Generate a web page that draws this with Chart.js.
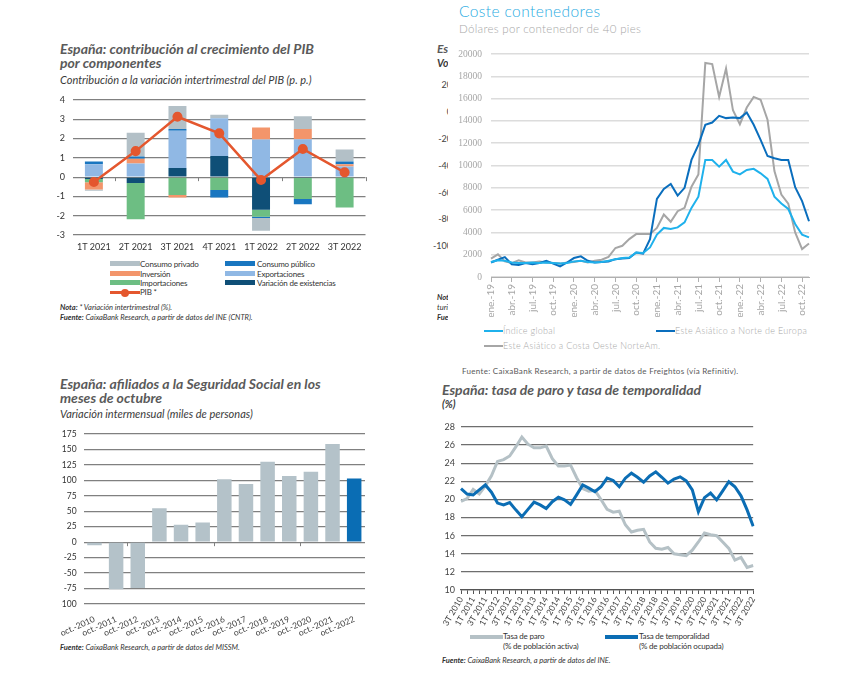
<!DOCTYPE html>
<html>
<head>
<meta charset="utf-8">
<script src="https://cdn.jsdelivr.net/npm/chart.js@4.4.0/dist/chart.umd.min.js"></script>
<style>
body { margin: 0; width: 843px; height: 690px; position: relative; overflow: hidden; background: #fff; font-family: Lato, sans-serif; }
.abs { position: absolute; white-space: nowrap; }
.tit { font-weight: bold; font-style: italic; color: #5a5a5a; font-size: 14px; line-height: 14px; }
.sub { font-style: italic; color: #3a3a3a; font-size: 11px; }
.note { font-style: italic; color: #333; font-size: 7.5px; }
.note b { font-style: italic; }
.leg { font-size: 8px; color: #333; letter-spacing: -0.2px; }
.box { position: absolute; }
.c2 { color: #a8a8a8; letter-spacing: 0.3px; font-weight: 300; }
</style>
</head>
<body>

<!-- fragmentos del gráfico tapado -->
<div class="abs" style="left:430px; top:40px; width:18px; height:290px; overflow:hidden;">
  <div class="abs tit" style="left:7px; top:2px; font-size:12px;">España</div>
  <div class="abs sub" style="left:7px; top:17px; font-weight:bold; font-size:10.5px;">Volumen</div>
  <div class="abs" style="right:-4px; top:39px; font-size:9px; color:#444;">20</div>
  <div class="abs" style="right:-4px; top:66px; font-size:9px; color:#444;">0</div>
  <div class="abs" style="right:-4px; top:93px; font-size:9px; color:#444;">-20</div>
  <div class="abs" style="right:-4px; top:120px; font-size:9px; color:#444;">-40</div>
  <div class="abs" style="right:-4px; top:147px; font-size:9px; color:#444;">-60</div>
  <div class="abs" style="right:-4px; top:173px; font-size:9px; color:#444;">-80</div>
  <div class="abs" style="right:-4px; top:200px; font-size:9px; color:#444;">-100</div>
  <div class="abs note" style="left:7px; top:253px; font-weight:bold;">Nota:</div>
  <div class="abs note" style="left:7px; top:263px;">turistas</div>
  <div class="abs note" style="left:7px; top:273px; font-weight:bold;">Fuente:</div>
</div>

<!-- 1: PIB -->
<div class="abs tit" style="left:60px; top:42px;">España: contribución al crecimiento del PIB<br>por componentes</div>
<div class="abs sub" style="left:60px; top:73px;">Contribución a la variación intertrimestral del PIB (p. p.)</div>
<div class="box" style="left:55px; top:86px; width:317px; height:169px;"><canvas id="c1"></canvas></div>
<div id="leg1"></div>
<div class="abs note" style="left:60px; top:303px;"><b>Nota:</b> * Variación intertrimestral (%).</div>
<div class="abs note" style="left:60px; top:313px;"><b>Fuente:</b> CaixaBank Research, a partir de datos del INE (CNTR).</div>

<!-- 2: contenedores -->
<div class="abs" style="left:459px; top:2px; font-size:15.5px; color:#29abe2; letter-spacing:0.4px; font-weight:300;">Coste contenedores</div>
<div class="abs c2" style="left:459px; top:22px; font-size:11.5px;">Dólares por contenedor de 40 pies</div>
<div class="box" style="left:449px; top:38px; width:374px; height:279px;"><canvas id="c2"></canvas></div>
<div id="leg2"></div>
<div class="abs" style="left:462px; top:366px; font-size:8px; color:#595959; letter-spacing:0.3px;">Fuente: CaixaBank Research, a partir de datos de Freightos (vía Refinitiv).</div>

<!-- 3: afiliados -->
<div class="abs tit" style="left:60px; top:377px;">España: afiliados a la Seguridad Social en los<br>meses de octubre</div>
<div class="abs sub" style="left:60px; top:407px;">Variación intermensual (miles de personas)</div>
<div class="box" style="left:58px; top:421px; width:313px; height:215px;"><canvas id="c3"></canvas></div>
<div class="abs note" style="left:60px; top:643px;"><b>Fuente:</b> CaixaBank Research, a partir de datos del MISSM.</div>

<!-- 4: paro y temporalidad -->
<div class="abs tit" style="left:442px; top:383px;">España: tasa de paro y tasa de temporalidad</div>
<div class="abs sub" style="left:442px; top:398px; font-weight:bold; font-size:10.5px;">(%)</div>
<div class="box" style="left:443px; top:415px; width:320px; height:215px;"><canvas id="c4"></canvas></div>
<div id="leg4"></div>
<div class="abs note" style="left:442px; top:656px;"><b>Fuente:</b> CaixaBank Research, a partir de datos del INE.</div>

<script>
/*global Chart*/

// --- 1: contribución al PIB
var trimestres = ["1T 2021", "2T 2021", "3T 2021", "4T 2021", "1T 2022", "2T 2022", "3T 2022"];
var existencias = [-0.09, -0.31, 0.47, 1.1, -1.69, -0.04, 0];
var importaciones = [-0.17, -1.87, -0.92, -0.67, -0.36, -1.09, -1.57];
var exportaciones = [0.67, 0.71, 1.93, 1.96, 1.95, 1.97, 0.55];
var inversion = [-0.38, 0.24, -0.13, 0, 0.62, 0.52, 0.12];
var consumoPublico = [0.14, 0.12, 0.1, -0.38, -0.07, -0.28, 0.14];
var consumoPrivado = [-0.07, 1.23, 1.19, 0.17, -0.66, 0.67, 0.62];
var pib = [-0.25, 1.35, 3.13, 2.27, -0.15, 1.46, 0.25];

// --- 2: coste contenedores (mensual)
var meses = ["ene.-19", "feb.-19", "mar.-19", "abr.-19", "may.-19", "jun.-19", "jul.-19", "ago.-19", "sep.-19", "oct.-19", "nov.-19", "dic.-19",
    "ene.-20", "feb.-20", "mar.-20", "abr.-20", "may.-20", "jun.-20", "jul.-20", "ago.-20", "sep.-20", "oct.-20", "nov.-20", "dic.-20",
    "ene.-21", "feb.-21", "mar.-21", "abr.-21", "may.-21", "jun.-21", "jul.-21", "ago.-21", "sep.-21", "oct.-21", "nov.-21", "dic.-21",
    "ene.-22", "feb.-22", "mar.-22", "abr.-22", "may.-22", "jun.-22", "jul.-22", "ago.-22", "sep.-22", "oct.-22", "nov.-22"];
var indiceGlobal = [1350, 1500, 1450, 1300, 1250, 1250, 1300, 1250, 1300, 1250, 1200, 1250,
    1400, 1450, 1350, 1300, 1350, 1450, 1600, 1700, 1750, 2200, 2150, 2650,
    3800, 4400, 4300, 4450, 4900, 6200, 7200, 10500, 10500, 9900, 10500, 9450,
    9200, 9600, 9700, 9300, 8800, 7200, 6600, 6100, 4750, 3800, 3550];
var norteEuropa = [1300, 1550, 1780, 1150, 1080, 1250, 1150, 1250, 1450, 1200, 950, 1300,
    1700, 1850, 1450, 1300, 1350, 1400, 1600, 1650, 1700, 2200, 2100, 3400,
    7000, 7900, 8350, 7300, 8000, 10500, 11850, 13650, 13850, 14450, 14250, 14300,
    14250, 14750, 13650, 12300, 10850, 10650, 10500, 10500, 8050, 6800, 5000];
var costaOeste = [1650, 2030, 1400, 1250, 1500, 1300, 1300, 1400, 1300, 1250, 1200, 1300,
    1350, 1450, 1300, 1450, 1550, 1800, 2600, 2800, 3400, 3850, 3850, 3850,
    4400, 5600, 4950, 5900, 6200, 8100, 9200, 19200, 19100, 16150, 18700, 14950,
    13700, 15200, 16150, 15900, 14100, 9500, 7400, 6580, 4000, 2500, 3000];

// --- 3: afiliados en octubre
var octubres = ["oct.-2010", "oct.-2011", "oct.-2012", "oct.-2013", "oct.-2014", "oct.-2015", "oct.-2016",
    "oct.-2017", "oct.-2018", "oct.-2019", "oct.-2020", "oct.-2021", "oct.-2022"];
var afiliados = [-5, -76, -74, 55, 28, 32, 102, 94, 130, 107, 114, 159, 103];

// --- 4: tasa de paro y temporalidad (trimestral)
var periodos = ["3T 2010", "4T 2010",
    "1T 2011", "2T 2011", "3T 2011", "4T 2011", "1T 2012", "2T 2012", "3T 2012", "4T 2012",
    "1T 2013", "2T 2013", "3T 2013", "4T 2013", "1T 2014", "2T 2014", "3T 2014", "4T 2014",
    "1T 2015", "2T 2015", "3T 2015", "4T 2015", "1T 2016", "2T 2016", "3T 2016", "4T 2016",
    "1T 2017", "2T 2017", "3T 2017", "4T 2017", "1T 2018", "2T 2018", "3T 2018", "4T 2018",
    "1T 2019", "2T 2019", "3T 2019", "4T 2019", "1T 2020", "2T 2020", "3T 2020", "4T 2020",
    "1T 2021", "2T 2021", "3T 2021", "4T 2021", "1T 2022", "2T 2022", "3T 2022"];
var tasaParo = [19.8, 20.1, 21.1, 20.6, 21.5, 22.6, 24.2, 24.4, 24.8, 25.8,
    26.9, 26.1, 25.7, 25.7, 25.9, 24.5, 23.7, 23.7, 23.8, 22.4, 21.2, 20.9,
    21.0, 20.0, 18.9, 18.6, 18.7, 17.2, 16.4, 16.6, 16.7, 15.3, 14.6, 14.5,
    14.7, 14.0, 13.9, 13.8, 14.4, 15.3, 16.3, 16.1, 16.0, 15.3, 14.6, 13.3,
    13.6, 12.5, 12.7];
var tasaTemporalidad = [21.2, 20.6, 20.5, 21.05, 21.6, 20.8, 19.6, 19.4, 19.65, 18.85,
    18.1, 18.9, 19.7, 19.4, 19.0, 19.75, 20.25, 19.95, 19.45, 20.5, 21.6, 21.25,
    20.85, 21.4, 22.35, 22.1, 21.4, 22.35, 22.9, 22.45, 21.9, 22.6, 23.05, 22.45,
    21.8, 22.25, 22.5, 22.05, 21.05, 18.65, 20.2, 20.7, 19.95, 20.95, 21.95, 21.4,
    20.4, 18.85, 17.05];

Chart.defaults.font.family = "Lato, sans-serif";
Chart.defaults.animation = false;
Chart.defaults.plugins.legend.display = false;
Chart.defaults.plugins.tooltip.enabled = false;

// pequeñas marcas sobre la línea del cero, entre categorías
var zeroTicks = {
    id: "zeroTicks",
    afterDraw: function (chart, args, opts) {
        var x = chart.scales.x, y = chart.scales.y, ctx = chart.ctx;
        var step = (x.right - x.left) / chart.data.labels.length;
        var y0 = y.getPixelForValue(0);
        ctx.save();
        ctx.strokeStyle = opts.color;
        ctx.lineWidth = 1;
        opts.marks.forEach(function (k) {
            var px = Math.round(x.left + step * k) + 0.5;
            ctx.beginPath();
            ctx.moveTo(px, y0);
            ctx.lineTo(px, y0 + 4);
            ctx.stroke();
        });
        ctx.restore();
    }
};

function fixWidth(w) { return function (axis) { axis.width = w; }; }
function fixHeight(h) { return function (axis) { axis.height = h; }; }

var gridDark = "#808080";

// ---------- gráfico 1
function bar(label, data, color) {
    return { type: "bar", label: label, data: data, backgroundColor: color, order: 1,
        barPercentage: 0.43, categoryPercentage: 1, stack: "c" };
}

new Chart(document.getElementById("c1"), {
    data: {
        labels: trimestres,
        datasets: [
            { type: "line", label: "PIB *", data: pib, borderColor: "#e4572e", backgroundColor: "#e4572e",
                borderWidth: 2.5, pointRadius: 3.8, pointBackgroundColor: "#e4572e", order: 0, stack: "pib", tension: 0 },
            bar("Variación de existencias", existencias, "#0f4f77"),
            bar("Importaciones", importaciones, "#6dbe83"),
            bar("Exportaciones", exportaciones, "#90b8e4"),
            bar("Inversión", inversion, "#f3956b"),
            bar("Consumo público", consumoPublico, "#1976c0"),
            bar("Consumo privado", consumoPrivado, "#b3c0c7")
        ]
    },
    options: {
        responsive: true, maintainAspectRatio: false,
        layout: { padding: { top: 14, right: 4, left: 0, bottom: 0 } },
        scales: {
            x: { stacked: true, grid: { display: false, drawTicks: false }, border: { display: false },
                ticks: { color: "#333", font: { size: 9 }, padding: 7, maxRotation: 0 },
                afterFit: fixHeight(20) },
            y: { stacked: true, min: -3, max: 4, border: { display: false },
                grid: { color: gridDark, lineWidth: 1.2, drawTicks: false },
                ticks: { stepSize: 1, color: "#333", font: { size: 9 }, padding: 8 },
                afterFit: fixWidth(18) }
        },
        plugins: { zeroTicks: { marks: [1, 3, 5, 7], color: gridDark } }
    },
    plugins: [zeroTicks]
});

// ---------- gráfico 2
new Chart(document.getElementById("c2"), {
    type: "line",
    data: {
        labels: meses,
        datasets: [
            { label: "Índice global", data: indiceGlobal, borderColor: "#1fb1ec", borderWidth: 2, pointRadius: 0, order: 1 },
            { label: "Este Asiático a Norte de Europa", data: norteEuropa, borderColor: "#0a6ebd", borderWidth: 2, pointRadius: 0, order: 2 },
            { label: "Este Asiático a Costa Oeste NorteAm.", data: costaOeste, borderColor: "#a6a6a6", borderWidth: 2, pointRadius: 0, order: 3 }
        ]
    },
    options: {
        responsive: true, maintainAspectRatio: false,
        layout: { padding: { top: 16, right: 6, left: 0, bottom: 0 } },
        scales: {
            x: { offset: false,
                grid: { drawOnChartArea: false, drawTicks: true, tickLength: 5,
                    tickColor: function (c) { return c.index % 3 === 0 ? "#b0b0b0" : "rgba(0,0,0,0)"; } },
                border: { color: "#b0b0b0", width: 1 },
                ticks: { autoSkip: false, minRotation: 90, maxRotation: 90, color: "#a6a6a6", padding: 2,
                    font: { size: 10 },
                    callback: function (v, i) { return i % 3 === 0 ? meses[i] : ""; } },
                afterFit: fixHeight(40) },
            y: { min: 0, max: 20000, border: { display: false },
                grid: { color: "#dcdcdc", lineWidth: 1.5, drawTicks: false },
                ticks: { stepSize: 2000, color: "#a6a6a6", padding: 9, font: { size: 9.5, family: "Liberation Serif" },
                    callback: function (v) { return String(v); } },
                afterFit: fixWidth(42) }
        }
    }
});

// ---------- gráfico 3
new Chart(document.getElementById("c3"), {
    type: "bar",
    data: {
        labels: octubres,
        datasets: [{ label: "Afiliados", data: afiliados,
            backgroundColor: octubres.map(function (l, i) { return i === octubres.length - 1 ? "#0a6db4" : "#b4c2c9"; }),
            barPercentage: 0.67, categoryPercentage: 1 }]
    },
    options: {
        responsive: true, maintainAspectRatio: false,
        layout: { padding: { top: 13, right: 6, left: 0, bottom: 0 } },
        scales: {
            x: { grid: { display: false }, border: { display: false },
                ticks: { autoSkip: false, minRotation: 24, maxRotation: 24, color: "#444", font: { size: 8.5 }, padding: 2 },
                afterFit: fixHeight(32) },
            y: { min: -100, max: 175, border: { display: false },
                grid: { color: gridDark, lineWidth: 1.2, drawTicks: false },
                ticks: { stepSize: 25, color: "#333", font: { size: 8.5 }, padding: 7 },
                afterFit: fixWidth(22) }
        },
        plugins: { zeroTicks: { marks: [2, 6, 10], color: gridDark } }
    },
    plugins: [zeroTicks]
});

// ---------- gráfico 4
new Chart(document.getElementById("c4"), {
    type: "line",
    data: {
        labels: periodos,
        datasets: [
            { label: "Tasa de paro", data: tasaParo, borderColor: "#b5c1c6", borderWidth: 3, pointRadius: 0, order: 2 },
            { label: "Tasa de temporalidad", data: tasaTemporalidad, borderColor: "#0b6db4", borderWidth: 3, pointRadius: 0, order: 1 }
        ]
    },
    options: {
        responsive: true, maintainAspectRatio: false,
        layout: { padding: { top: 12, right: 6, left: 0, bottom: 0 } },
        scales: {
            x: { offset: false,
                grid: { drawOnChartArea: false, drawTicks: true, tickLength: 4, tickColor: "#555" },
                border: { color: "#555", width: 1.3 },
                ticks: { autoSkip: false, minRotation: 60, maxRotation: 60, color: "#444", padding: 1,
                    font: { size: 8.5 },
                    callback: function (v, i) { return i % 2 === 0 ? periodos[i] : ""; } },
                afterFit: fixHeight(40) },
            y: { min: 10, max: 28, border: { display: false },
                grid: { color: "#6e6e6e", lineWidth: 1.3, drawTicks: false },
                ticks: { stepSize: 2, color: "#444", font: { size: 9 }, padding: 6 },
                afterFit: fixWidth(18) }
        }
    }
});

// ---------- leyendas en HTML
function swatch(left, top, w, h, color) {
    return '<div class="abs" style="left:' + left + 'px;top:' + top + 'px;width:' + w + 'px;height:' + h + 'px;background:' + color + ';"></div>';
}
function text(left, top, s, cls, style) {
    return '<div class="abs ' + cls + '" style="left:' + left + 'px;top:' + top + 'px;' + (style || "") + '">' + s + '</div>';
}

var leg1 = [
    ["Consumo privado", "#b3c0c7", 110, 140, 260],
    ["Consumo público", "#1976c0", 225, 257, 260],
    ["Inversión", "#f3956b", 110, 140, 270],
    ["Exportaciones", "#90b8e4", 225, 257, 270],
    ["Importaciones", "#6dbe83", 110, 140, 279],
    ["Variación de existencias", "#0f4f77", 225, 257, 279]
];
var h1 = "";
leg1.forEach(function (d) {
    h1 += swatch(d[2], d[4] + 1, 30, 5, d[1]) + text(d[3], d[4] - 1, d[0], "leg");
});
h1 += swatch(110, 291, 30, 2.5, "#e4572e");
h1 += '<div class="abs" style="left:121px;top:288.5px;width:8px;height:8px;border-radius:4px;background:#e4572e;"></div>';
h1 += text(140, 287, "PIB *", "leg");
document.getElementById("leg1").innerHTML = h1;

var h2 = "";
h2 += swatch(484, 330, 19, 2, "#1fb1ec") + text(503, 325, "Índice global", "c2", "font-size:9px;");
h2 += swatch(656, 330, 19, 2, "#0a6ebd") + text(675, 325, "Este Asiático a Norte de Europa", "c2", "font-size:9px;");
h2 += swatch(484, 345, 19, 2, "#a6a6a6") + text(503, 340, "Este Asiático a Costa Oeste NorteAm.", "c2", "font-size:9px;");
document.getElementById("leg2").innerHTML = h2;

var h4 = "";
h4 += swatch(470, 635, 33, 4, "#b5c1c6") + text(503, 631, "Tasa de paro<br>(% de población activa)", "leg", "line-height:10px;");
h4 += swatch(605, 635, 33, 4, "#0b6db4") + text(639, 631, "Tasa de temporalidad<br>(% de población ocupada)", "leg", "line-height:10px;");
document.getElementById("leg4").innerHTML = h4;
</script>
</body>
</html>
